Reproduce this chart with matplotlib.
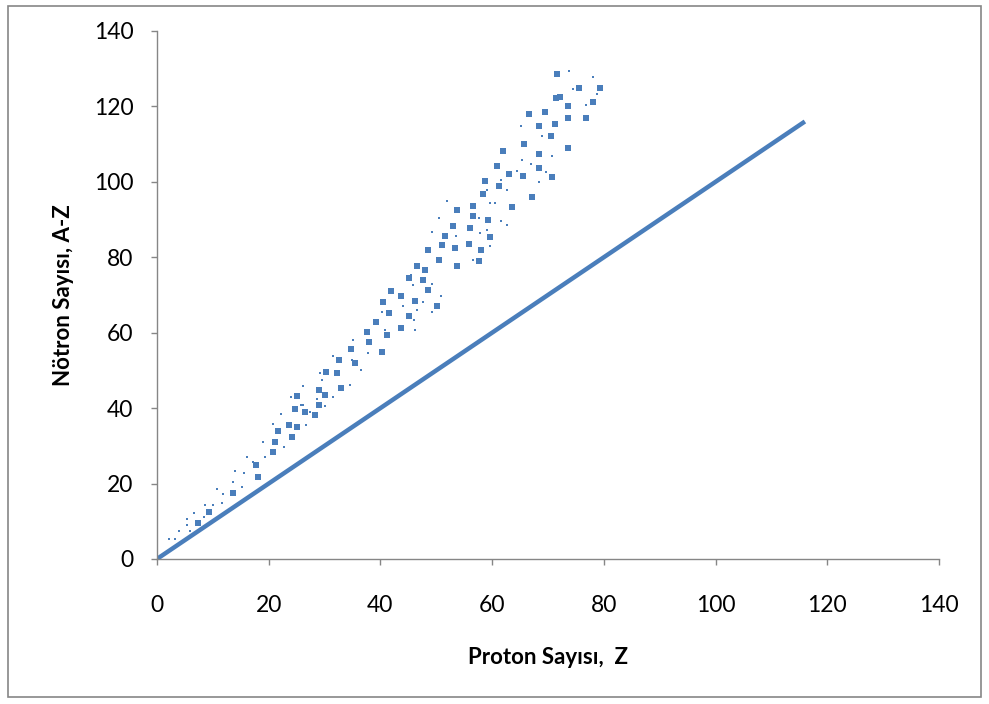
import numpy as np
import matplotlib.pyplot as plt
from matplotlib.patches import Rectangle

# ---------- DATA ----------
# larger squares (Z, N)
big_z = [7.4, 9.3, 13.7, 18.1,
         25.1, 24.7, 26.5, 28.3, 29.0, 23.6, 25.1, 21.7, 24.1, 21.1, 20.7, 17.8, 29.0,
         39.3, 37.6, 38.0, 40.2, 41.1, 34.7, 32.6, 35.5, 30.2, 32.3, 32.9, 30.1,
         48.6, 50.5, 46.6, 48.0, 45.1, 47.6, 41.9, 43.7, 48.6, 40.5, 46.2, 50.2, 41.6, 45.1, 43.7,
         58.7, 61.2, 58.3, 56.5, 53.7, 56.5, 59.3, 53.0, 56.0, 51.6, 59.6, 51.1, 53.3, 55.9, 58.0, 53.8, 57.6,
         68.4, 71.2, 70.5, 65.7, 61.9, 68.4, 73.6, 60.9, 68.4, 63.0, 65.5, 70.8, 67.1, 63.5,
         71.7, 75.5, 79.4, 72.1, 71.4, 78.0, 73.5, 69.5, 66.6, 73.6, 76.9]
big_n = [9.5, 12.5, 17.4, 21.8,
         43.3, 39.7, 39.1, 38.2, 40.8, 35.5, 34.9, 34.0, 32.3, 31.1, 28.3, 24.9, 44.8,
         62.9, 60.3, 57.6, 55.0, 59.4, 55.6, 52.8, 51.9, 49.7, 49.4, 45.4, 43.5,
         81.9, 79.3, 77.7, 76.6, 74.4, 74.0, 71.1, 69.8, 71.3, 68.2, 68.5, 67.1, 65.2, 64.4, 61.3,
         100.1, 98.9, 96.8, 93.7, 92.5, 91.0, 89.9, 88.3, 87.7, 85.7, 85.3, 83.3, 82.4, 83.5, 81.9, 77.7, 78.9,
         114.8, 115.4, 112.2, 110.0, 108.3, 107.4, 108.9, 104.2, 103.6, 102.1, 101.6, 101.2, 95.9, 93.3,
         128.5, 124.8, 124.8, 122.6, 122.3, 121.1, 120.1, 118.4, 118.0, 116.9, 117.0]

# small dots (Z, N)
small_z = [2.2, 3.3, 4.0, 5.4, 5.4, 5.9, 6.6, 8.6, 10.1, 10.8, 11.9, 11.6, 13.7, 14.0, 15.5, 15.2, 8.4,
           24.0, 25.8, 27.4, 22.2, 20.8, 26.7, 18.9, 22.7, 19.3, 16.2, 17.2, 18.1, 28.6, 30.3,
           35.1, 31.6, 34.9, 36.5, 37.8, 29.2, 29.5, 26.2, 34.6, 31.6, 30.0, 26.1,
           45.5, 45.9, 49.3, 44.0, 47.6, 50.8, 40.2, 46.6, 49.3, 46.0, 46.2, 40.9,
           51.9, 50.5, 49.3, 59.7, 60.5, 57.7, 61.6, 62.6, 57.9, 53.5, 59.1, 59.7, 59.1, 56.6,
           65.1, 69.0, 70.8, 65.4, 66.9, 64.4, 69.6, 68.4, 61.6, 62.6,
           73.8, 78.0, 74.4, 78.7, 76.9]
small_n = [5.2, 5.2, 7.3, 9.0, 10.5, 7.3, 12.1, 14.3, 14.3, 18.5, 17.3, 14.8, 20.5, 23.2, 22.7, 19.0, 11.0,
           42.9, 40.7, 39.1, 38.5, 35.7, 35.5, 30.9, 29.6, 27.0, 27.0, 25.8, 21.7, 42.3, 42.9,
           58.1, 53.8, 52.8, 50.1, 54.5, 49.2, 47.5, 45.9, 46.0, 42.9, 40.6, 40.8,
           75.3, 72.7, 72.9, 67.1, 68.2, 69.7, 65.6, 66.0, 65.6, 63.4, 60.7, 60.7,
           95.0, 90.3, 86.6, 94.5, 94.5, 90.3, 89.7, 88.6, 86.4, 85.7, 87.2, 83.0, 97.9, 79.3,
           114.8, 112.2, 106.9, 105.8, 104.7, 103.0, 102.5, 99.9, 100.5, 97.9,
           129.5, 127.9, 124.5, 123.2, 120.5]

# N = Z reference line
line_z = [0, 116]
line_n = [0, 116]

# ---------- STYLE ----------
plt.rcParams['font.family'] = ['Lato', 'DejaVu Sans']
blue = '#4a7ebb'
grey = '#868686'

# ---------- PLOT ----------
fig = plt.figure(figsize=(9.89, 7.04), dpi=100)
ax = fig.add_axes([0.1587, 0.206, 0.7907, 0.750])

ax.plot(line_z, line_n, color=blue, lw=3.2, solid_capstyle='butt')
ax.plot(big_z, big_n, 's', color=blue, ms=4.6, mew=0)
ax.plot(small_z, small_n, 's', color=blue, ms=1.9, mew=0)

ax.set_xlim(0, 140)
ax.set_ylim(0, 140)
ax.set_xticks(np.arange(0, 141, 20))
ax.set_yticks(np.arange(0, 141, 20))

ax.spines['top'].set_visible(False)
ax.spines['right'].set_visible(False)
for s in ('left', 'bottom'):
    ax.spines[s].set_color(grey)
    ax.spines[s].set_linewidth(1.0)
ax.tick_params(direction='out', length=4, width=1, color=grey, labelsize=16.5)
ax.tick_params(axis='y', pad=13)
ax.tick_params(axis='x', pad=22)

ax.set_xlabel("Proton Sayısı,  Z", fontsize=16, fontweight='bold', labelpad=22)
ax.set_ylabel("Nötron Sayısı, A-Z", fontsize=16, fontweight='bold', labelpad=14)

# outer frame like the chart area border
fig.patches.append(Rectangle((0.008, 0.01), 0.984, 0.982, transform=fig.transFigure,
                             fill=False, edgecolor=grey, lw=1.2))

plt.savefig("out.png", dpi=100)
